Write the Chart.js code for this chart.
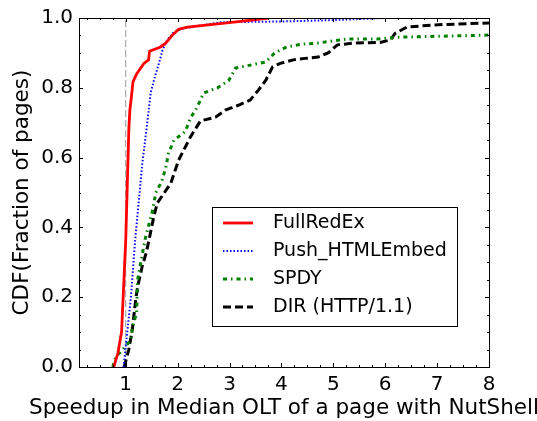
<!DOCTYPE html>
<html lang="en">
<head>
    <meta charset="UTF-8">
    <title>Speedup CDF</title>
    <script src="https://cdn.jsdelivr.net/npm/chart.js"></script>
    <style>
        body { margin: 0; background: #fff; }
        #wrap { width: 537px; height: 421px; }
    </style>
</head>
<body>
    <div id="wrap"><canvas id="cdfChart" width="537" height="421"></canvas></div>

    <script>
        // values
        const seriesNames = ['FullRedEx', 'Push_HTMLEmbed', 'SPDY', 'DIR (HTTP/1.1)'];
        const xTitle = 'Speedup in Median OLT of a page with NutShell';
        const yTitle = 'CDF(Fraction of pages)';

        const redX = [0.77, 0.85, 0.92, 0.96, 1.0, 1.06, 1.08, 1.11, 1.14, 1.21, 1.35, 1.44, 1.46, 1.67, 1.77, 1.9, 2.02, 2.19, 2.77, 3.3, 3.75];
        const redY = [0, 0.04, 0.1, 0.23, 0.36, 0.68, 0.736, 0.774, 0.817, 0.84, 0.87, 0.88, 0.905, 0.917, 0.928, 0.951, 0.968, 0.974, 0.983, 0.992, 1.0];

        const blueX = [0.96, 1.03, 1.1, 1.14, 1.18, 1.23, 1.32, 1.4, 1.48, 1.56, 1.64, 1.71, 1.8, 1.93, 2.1, 2.83, 4.0, 5.0, 6.0];
        const blueY = [0, 0.1, 0.2, 0.28, 0.36, 0.44, 0.584, 0.68, 0.785, 0.83, 0.87, 0.908, 0.937, 0.96, 0.97, 0.988, 0.99, 0.994, 1.0];

        const greenX = [0.75, 0.81, 0.9, 1.1, 1.13, 1.21, 1.23, 1.29, 1.38, 1.52, 1.58, 1.69, 1.77, 1.82, 1.93, 2.15, 2.25, 2.38, 2.5, 2.77, 2.98, 3.12, 3.4, 3.7, 3.87, 4.1, 4.4, 4.69, 4.98, 5.27, 5.85, 6.1, 6.25, 8];
        const greenY = [0, 0.03, 0.043, 0.077, 0.115, 0.155, 0.25, 0.3, 0.37, 0.45, 0.5, 0.53, 0.57, 0.61, 0.65, 0.675, 0.714, 0.745, 0.785, 0.8, 0.82, 0.857, 0.865, 0.874, 0.9, 0.917, 0.925, 0.928, 0.934, 0.94, 0.94, 0.943, 0.945, 0.951];

        const blackX = [0.97, 1.06, 1.13, 1.19, 1.23, 1.32, 1.4, 1.45, 1.54, 1.61, 1.87, 2.02, 2.25, 2.44, 2.73, 2.92, 3.17, 3.4, 3.56, 3.7, 3.83, 3.98, 4.23, 4.5, 4.71, 4.9, 5.08, 5.38, 5.9, 6.1, 6.19, 6.42, 6.92, 8];
        const blackY = [0, 0.05, 0.11, 0.19, 0.23, 0.29, 0.33, 0.365, 0.43, 0.47, 0.527, 0.593, 0.66, 0.705, 0.716, 0.736, 0.75, 0.765, 0.794, 0.822, 0.86, 0.87, 0.88, 0.885, 0.888, 0.9, 0.923, 0.928, 0.93, 0.937, 0.956, 0.974, 0.98, 0.986];

        const xTicks = [1, 2, 3, 4, 5, 6, 7, 8];
        const yTicks = [0, 0.2, 0.4, 0.6, 0.8, 1.0];
        const refLineX = [1, 1];
        const refLineY = [0, 1];

        const pts = (xs, ys) => xs.map((x, i) => ({ x: x, y: ys[i] }));
        const FONT = 'DejaVu Sans';

        // matplotlib-style inward ticks on all four sides + closed frame
        const frameTicks = {
            id: 'frameTicks',
            afterDraw(chart) {
                const { ctx, chartArea: a, scales: { x, y } } = chart;
                ctx.save();
                ctx.strokeStyle = '#000';
                ctx.lineWidth = 1;
                ctx.beginPath();
                for (let v = 0.25; v <= 8.001; v += 0.25) {
                    if (v < x.min) continue;
                    const px = Math.round(x.getPixelForValue(v)) + 0.5;
                    const len = Math.abs(v - Math.round(v)) < 1e-6 ? 4 : 2;
                    ctx.moveTo(px, a.bottom); ctx.lineTo(px, a.bottom - len);
                    ctx.moveTo(px, a.top); ctx.lineTo(px, a.top + len);
                }
                for (let i = 0; i <= 20; i++) {
                    const v = i * 0.05;
                    const py = Math.round(y.getPixelForValue(v)) + 0.5;
                    const len = i % 4 === 0 ? 4 : 2;
                    ctx.moveTo(a.left, py); ctx.lineTo(a.left + len, py);
                    ctx.moveTo(a.right, py); ctx.lineTo(a.right - len, py);
                }
                ctx.stroke();
                ctx.strokeRect(Math.round(a.left) + 0.5, Math.round(a.top) + 0.5,
                    Math.round(a.right - a.left), Math.round(a.bottom - a.top));

                // axis titles, drawn here so chart.js does not squeeze them to the axis width
                ctx.fillStyle = '#000';
                ctx.font = '21.5px "' + FONT + '"';
                ctx.textAlign = 'center';
                ctx.textBaseline = 'alphabetic';
                ctx.fillText(xTitle, (a.left + a.right) / 2, a.bottom + 47);
                ctx.translate(28, (a.top + a.bottom) / 2);
                ctx.rotate(-Math.PI / 2);
                ctx.fillText(yTitle, 0, 0);
                ctx.restore();
            }
        };

        // legend box inside the plot, lower right
        const boxLegend = {
            id: 'boxLegend',
            afterDraw(chart) {
                const { ctx, chartArea: a } = chart;
                const left = a.left + 133, top = a.bottom - 160, w = 245, h = 119;
                ctx.save();
                ctx.fillStyle = '#fff';
                ctx.fillRect(left, top, w, h);
                ctx.strokeStyle = '#000';
                ctx.lineWidth = 1;
                ctx.strokeRect(left + 0.5, top + 0.5, w, h);
                ctx.font = '19px "' + FONT + '"';
                ctx.textBaseline = 'middle';
                chart.data.datasets.slice(0, 4).forEach((ds, i) => {
                    const cy = top + 16 + i * 28;
                    ctx.strokeStyle = ds.borderColor;
                    ctx.lineWidth = ds.borderWidth;
                    ctx.setLineDash(ds.borderDash || []);
                    ctx.beginPath();
                    ctx.moveTo(left + 11, cy);
                    ctx.lineTo(left + 41, cy);
                    ctx.stroke();
                    ctx.setLineDash([]);
                    ctx.fillStyle = '#000';
                    ctx.fillText(ds.label, left + 61, cy);
                });
                ctx.restore();
            }
        };

        const ctx = document.getElementById('cdfChart').getContext('2d');
        new Chart(ctx, {
            type: 'line',
            data: {
                datasets: [
                    { label: seriesNames[0], data: pts(redX, redY), borderColor: '#ff0000', borderWidth: 2.8 },
                    { label: seriesNames[1], data: pts(blueX, blueY), borderColor: '#0000ff', borderWidth: 2, borderDash: [1.5, 2] },
                    { label: seriesNames[2], data: pts(greenX, greenY), borderColor: '#008000', borderWidth: 3, borderDash: [4, 4, 1.5, 4] },
                    { label: seriesNames[3], data: pts(blackX, blackY), borderColor: '#000000', borderWidth: 3, borderDash: [8, 4] },
                    { label: 'ref', data: pts(refLineX, refLineY), borderColor: '#999999', borderWidth: 1, borderDash: [7, 3] }
                ]
            },
            options: {
                responsive: false,
                animation: false,
                parsing: false,
                elements: { point: { radius: 0 }, line: { tension: 0, fill: false } },
                layout: { padding: { left: 0, top: 18, right: 48, bottom: 0 } },
                plugins: { legend: { display: false }, tooltip: { enabled: false } },
                scales: {
                    x: {
                        type: 'linear',
                        min: 0.1,
                        max: 8,
                        afterBuildTicks: s => { s.ticks = xTicks.map(v => ({ value: v })); },
                        afterFit: s => { s.height = 54; },
                        grid: { display: false, drawTicks: false },
                        border: { display: false },
                        ticks: { color: '#000', padding: 6, font: { family: FONT, size: 20 }, maxRotation: 0 },
                        title: { display: false }
                    },
                    y: {
                        type: 'linear',
                        min: 0,
                        max: 1,
                        afterBuildTicks: s => { s.ticks = yTicks.map(v => ({ value: v })); },
                        afterFit: s => { s.width = 79; },
                        grid: { display: false, drawTicks: false },
                        border: { display: false },
                        ticks: { color: '#000', padding: 6, font: { family: FONT, size: 20 }, callback: v => v.toFixed(1) },
                        title: { display: false }
                    }
                }
            },
            plugins: [frameTicks, boxLegend]
        });
    </script>
</body>
</html>
